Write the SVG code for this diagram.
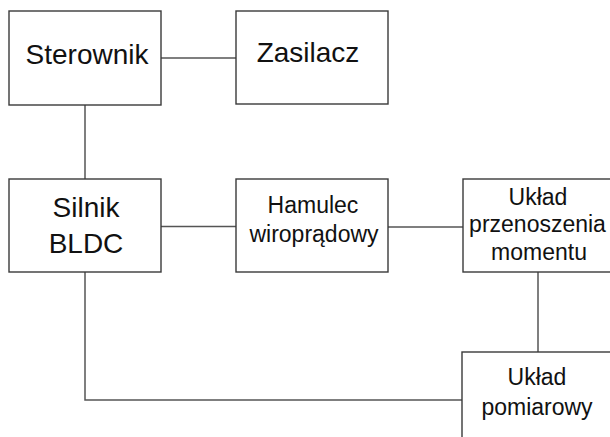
<svg xmlns="http://www.w3.org/2000/svg" width="610" height="437" viewBox="0 0 610 437">
<style>
.box{fill:#fff;stroke:#3a3a3a;stroke-width:1.4}
.conn{fill:none;stroke:#555;stroke-width:1.5}
text{font-family:"Liberation Sans",Arial,sans-serif;fill:#111;text-anchor:middle}
.big{font-size:28px}
.sm{font-size:23px}
</style>
<rect width="610" height="437" fill="#fff"/>
<g id="connectors">
<path class="conn" d="M161 58H236"/>
<path class="conn" d="M85 105V179"/>
<path class="conn" d="M161 226.5H236"/>
<path class="conn" d="M388 227H463"/>
<path class="conn" d="M538 272V352"/>
<path class="conn" d="M85 272V400H462"/>
</g>
<g id="sterownik">
<rect class="box" x="9" y="11" width="152" height="94"/>
<text class="big" x="87" y="64">Sterownik</text>
</g>
<g id="zasilacz">
<rect class="box" x="236" y="11" width="152" height="93"/>
<text class="big" x="308" y="62">Zasilacz</text>
</g>
<g id="silnik">
<rect class="box" x="9" y="179" width="152" height="93"/>
<text class="big" x="86" y="216.5">Silnik</text>
<text class="big" x="86" y="253">BLDC</text>
</g>
<g id="hamulec">
<rect class="box" x="236" y="179" width="152" height="93"/>
<text class="sm" x="313" y="213">Hamulec</text>
<text class="sm" x="314" y="241.5">wiroprądowy</text>
</g>
<g id="przenoszenie">
<rect class="box" x="463" y="179" width="150" height="93"/>
<text class="sm" x="538" y="204.5">Układ</text>
<text class="sm" x="537.5" y="231.5">przenoszenia</text>
<text class="sm" x="539" y="259.5">momentu</text>
</g>
<g id="pomiarowy">
<rect class="box" x="462" y="352" width="151" height="90"/>
<text class="sm" x="537" y="384.5">Układ</text>
<text class="sm" x="537" y="415">pomiarowy</text>
</g>
</svg>
